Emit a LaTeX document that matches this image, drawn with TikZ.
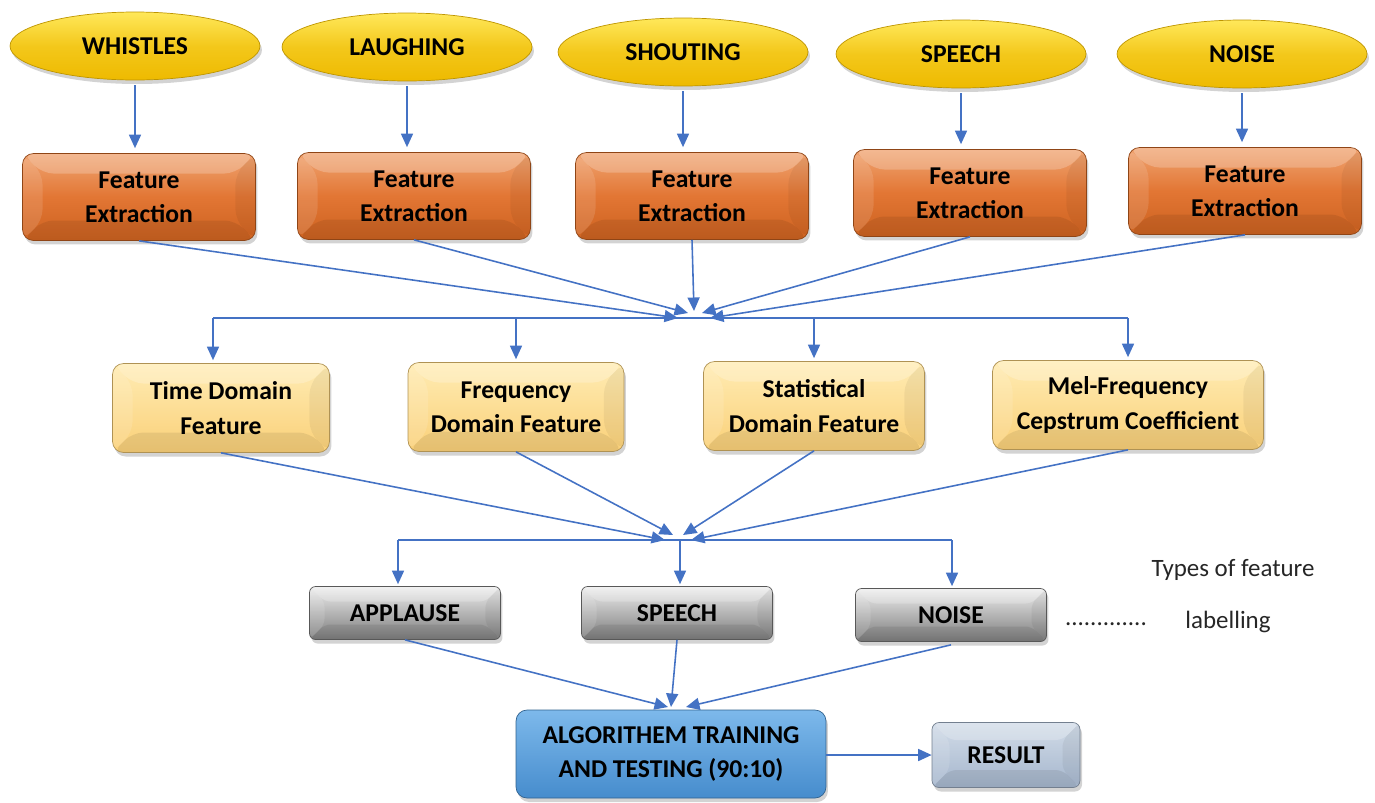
\documentclass[tikz,border=0pt]{standalone}
\usepackage{fontspec}
\setmainfont{Carlito}
\usetikzlibrary{arrows.meta,shapes.geometric,shadows}
\definecolor{arrblue}{RGB}{68,114,196}
\definecolor{goldT}{RGB}{255,232,90}
\definecolor{goldB}{RGB}{238,186,0}
\definecolor{orT}{RGB}{240,165,115}
\definecolor{orM}{RGB}{226,118,52}
\definecolor{orB}{RGB}{205,98,32}
\definecolor{ltT}{RGB}{255,236,180}
\definecolor{ltB}{RGB}{250,208,120}
\definecolor{grT}{RGB}{238,238,238}
\definecolor{grM}{RGB}{180,180,180}
\definecolor{grB}{RGB}{125,125,125}
\definecolor{blT}{RGB}{125,185,235}
\definecolor{blB}{RGB}{70,140,205}
\definecolor{rsT}{RGB}{210,220,232}
\definecolor{rsB}{RGB}{165,182,205}
\tikzset{
  x=0.02cm, y=-0.02cm,
  lbl/.style={font=\fontsize{14.6}{19.5}\selectfont\bfseries, align=center, text=black},
  bevel/.style={path picture={
    \coordinate (pnw) at (path picture bounding box.north west);
    \coordinate (pne) at (path picture bounding box.north east);
    \coordinate (psw) at (path picture bounding box.south west);
    \coordinate (pse) at (path picture bounding box.south east);
    \coordinate (qnw) at ([xshift=#1,yshift=-#1]path picture bounding box.north west);
    \coordinate (qne) at ([xshift=-#1,yshift=-#1]path picture bounding box.north east);
    \coordinate (qsw) at ([xshift=#1,yshift=#1]path picture bounding box.south west);
    \coordinate (qse) at ([xshift=-#1,yshift=#1]path picture bounding box.south east);
    \fill[white,opacity=0.22] (pnw) -- (pne) -- (qne) -- (qnw) -- cycle;
    \fill[white,opacity=0.12] (pnw) -- (qnw) -- (qsw) -- (psw) -- cycle;
    \fill[black,opacity=0.08] (psw) -- (qsw) -- (qse) -- (pse) -- cycle;
    \fill[black,opacity=0.05] (pne) -- (qne) -- (qse) -- (pse) -- cycle;
  }},
  bevel/.default=0.4cm,
  shad/.style={drop shadow={opacity=0.35, shadow xshift=0.04cm, shadow yshift=-0.08cm}},
  src/.style={lbl, ellipse, draw=goldB!80!black, line width=0.4pt, top color=goldT, bottom color=goldB, middle color=goldB!70!goldT, minimum width=5cm, minimum height=1.36cm, inner sep=0pt, shad},
  fe/.style={lbl, rounded corners=0.22cm, draw=orB!70!black, line width=0.4pt, top color=orT, bottom color=orB, middle color=orM, minimum width=4.66cm, minimum height=1.74cm, inner sep=0pt, bevel, shad},
  dom/.style={lbl, rounded corners=0.22cm, draw=ltB!70!black, line width=0.4pt, top color=ltT, bottom color=ltB, minimum height=1.78cm, inner sep=0pt, bevel, shad},
  cls/.style={lbl, rounded corners=0.12cm, draw=grB!70!black, line width=0.4pt, top color=grT, bottom color=grB, middle color=grM, minimum width=3.82cm, minimum height=1.06cm, inner sep=0pt, bevel=0.3cm, shad},
  alg/.style={lbl, rounded corners=0.22cm, draw=blB!70!black, line width=0.4pt, top color=blT, bottom color=blB, minimum width=6.2cm, minimum height=1.76cm, inner sep=0pt, shad},
  res/.style={lbl, rounded corners=0.14cm, draw=rsB!70!black, line width=0.4pt, top color=rsT, bottom color=rsB, minimum width=2.96cm, minimum height=1.3cm, inner sep=0pt, bevel=0.35cm, shad},
  arr/.style={draw=arrblue, line width=0.9pt, -{Triangle[length=0.27cm,width=0.24cm]}},
  ln/.style={draw=arrblue, line width=0.9pt},
  note/.style={font=\fontsize{14.2}{16}\selectfont, text=black!85}
}
\begin{document}
\begin{tikzpicture}
\useasboundingbox (0,0) rectangle (1375,802);
% sources
\node[src] (e1) at (135,46) {WHISTLES};
\node[src] (e2) at (407,47) {LAUGHING};
\node[src] (e3) at (683,52) {SHOUTING};
\node[src] (e4) at (961,54) {SPEECH};
\node[src] (e5) at (1242,54) {NOISE};
% feature extraction
\node[fe] (f1) at (139,197) {Feature\\Extraction};
\node[fe] (f2) at (414,196) {Feature\\Extraction};
\node[fe] (f3) at (692,196) {Feature\\Extraction};
\node[fe] (f4) at (970,193) {Feature\\Extraction};
\node[fe] (f5) at (1245,191) {Feature\\Extraction};
\foreach \i in {1,...,5}{
  \draw[arr, shorten <=0.1cm, shorten >=0.1cm] (e\i.south) -- (e\i.south |- f\i.north);
}
% hub 1
\coordinate (h1a) at (678,318);
\coordinate (h1b) at (688,313);
\coordinate (h1c) at (694,311);
\coordinate (h1d) at (702,313);
\coordinate (h1e) at (710,318);
\draw[arr] (f1.south) -- (h1a);
\draw[arr] (f2.south) -- (h1b);
\draw[arr] (f3.south) -- (h1c);
\draw[arr] (f4.south) -- (h1d);
\draw[arr] (f5.south) -- (h1e);
% domains
\node[dom, minimum width=4.34cm] (t1) at (221,408) {Time Domain\\Feature};
\node[dom, minimum width=4.32cm] (t2) at (516,407) {Frequency\\Domain Feature};
\node[dom, minimum width=4.42cm] (t3) at (814,406) {Statistical\\Domain Feature};
\node[dom, minimum width=5.42cm] (t4) at (1128,405) {Mel-Frequency\\Cepstrum Coefficient};
\coordinate (b1) at (213,318);
\coordinate (b2) at (1128,318);
\draw[ln] (b1) -- (b2);
\draw[arr, shorten >=0.06cm] (b1) -- (b1 |- t1.north);
\draw[arr, shorten >=0.06cm] (t2.north |- b1) -- (t2.north);
\draw[arr, shorten >=0.06cm] (t3.north |- b1) -- (t3.north);
\draw[arr, shorten >=0.06cm] (b2) -- (t4.north);
% hub 2
\coordinate (h2a) at (665,540);
\coordinate (h2b) at (673,535);
\coordinate (h2c) at (683,535);
\coordinate (h2d) at (691,540);
\draw[arr] (t1.south) -- (h2a);
\draw[arr] (t2.south) -- (h2b);
\draw[arr] (t3.south) -- (h2c);
\draw[arr] (t4.south) -- (h2d);
% classes
\node[cls] (g1) at (405,613) {APPLAUSE};
\node[cls] (g2) at (677,613) {SPEECH};
\node[cls] (g3) at (951,615) {NOISE};
\coordinate (c1) at (398,540);
\coordinate (c2) at (680,540);
\coordinate (c3) at (952,540);
\draw[ln] (c1) -- (c3);
\draw[arr, shorten >=0.04cm] (c1) -- (c1 |- g1.north);
\draw[arr, shorten >=0.04cm] (c2) -- (c2 |- g2.north);
\draw[arr, shorten >=0.04cm] (c3) -- (c3 |- g3.north);
% notes
\node[note] (n1) at (1233,570) {Types of feature};
\node[note] (n2) at (1228,622) {labelling};
\node[note] (n3) at (1106,624) {.............};
% algorithm
\node[alg] (a) at (671,754) {ALGORITHEM TRAINING\\AND TESTING (90:10)};
\node[res] (r) at (1006,755) {RESULT};
\coordinate (a1) at (668,707);
\coordinate (a2) at (671,707);
\coordinate (a3) at (686,707);
\draw[arr] (g1.south) -- (a1);
\draw[arr] (g2.south) -- (a2);
\draw[arr] ([yshift=-0.06cm]g3.south) -- (a3);
\draw[arr] (a.east |- r.west) -- (r.west);
\end{tikzpicture}
\end{document}
